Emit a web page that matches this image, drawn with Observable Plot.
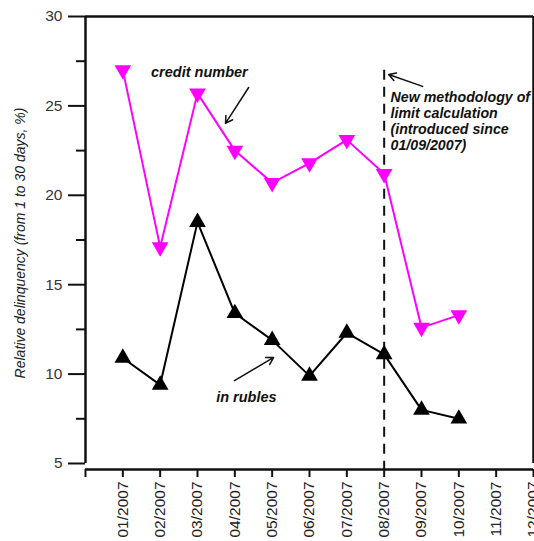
<!DOCTYPE html>
<html>
<head>
<meta charset="utf-8">
<script src="https://cdn.jsdelivr.net/npm/d3@7"></script>
<script src="https://cdn.jsdelivr.net/npm/@observablehq/plot@0.6"></script>
<style>
  html, body { margin: 0; padding: 0; background: #fff; }
</style>
</head>
<body>
<div id="chart"></div>
<script>
// ---- data ----
const months = [1, 2, 3, 4, 5, 6, 7, 8, 9, 10];
const creditNumber = [27.0, 17.1, 25.7, 22.5, 20.7, 21.8, 23.1, 21.2, 12.6, 13.3];
const inRubles = [10.9, 9.4, 18.5, 13.4, 11.9, 9.9, 12.3, 11.1, 8.0, 7.5];
const monthTicks = [0, 1, 2, 3, 4, 5, 6, 7, 8, 9, 10, 11, 12];
const monthLabels = ["", "01/2007", "02/2007", "03/2007", "04/2007", "05/2007", "06/2007",
  "07/2007", "08/2007", "09/2007", "10/2007", "11/2007", "12/2007"];
const yMajor = [5, 10, 15, 20, 25, 30];
const yMinor = [7.5, 12.5, 17.5, 22.5, 27.5];
const yLabel = "Relative delinquency (from 1 to 30 days, %)";
const methodologyMonth = 8;
const methodologyTop = 27.0;

// annotations (data coordinates)
const labels = [
  {x: 3.05, y: 26.87, text: "credit number"},
  {x: 4.31, y: 8.69, text: "in rubles"}
];
const noteText = [{x: 8.17, y: 25.85, text: "New methodology of\nlimit calculation\n(introduced since\n01/09/2007)"}];
const arrows = [
  {x1: 4.37, y1: 26.03, x2: 3.75, y2: 24.02},
  {x1: 3.99, y1: 9.64, x2: 5.04, y2: 10.93},
  {x1: 9.03, y1: 26.09, x2: 8.12, y2: 26.76}
];

const yBottom = 4.664;
const credit = months.map((m, i) => ({m, v: creditNumber[i]}));
const rubles = months.map((m, i) => ({m, v: inRubles[i]}));

const chart = Plot.plot({
  width: 534,
  height: 541,
  marginLeft: 85,
  marginRight: 1,
  marginTop: 16,
  marginBottom: 72,
  x: {domain: [0, 12], axis: null},
  y: {domain: [yBottom, 30], axis: null},
  style: {fontFamily: "'Liberation Sans', Arial, sans-serif", background: "#fff", overflow: "hidden"},
  marks: [
    // frame lines
    Plot.ruleX([0], {y1: 5, y2: 30, stroke: "#111", strokeWidth: 2.5}),
    Plot.ruleX([12], {y1: 5, y2: 30, stroke: "#111", strokeWidth: 2.5}),
    Plot.ruleY([30], {x1: 0, x2: 12, stroke: "#111", strokeWidth: 2.5}),
    Plot.ruleY([yBottom], {x1: 0, x2: 12, stroke: "#111", strokeWidth: 2.5}),
    // y axis
    Plot.axisY(yMajor, {tickSize: 17, tickPadding: 6, fontSize: 15.5, stroke: "#111", fill: "#333", strokeWidth: 2, label: null}),
    Plot.axisY(yMinor, {tickSize: 9, tickFormat: () => "", stroke: "#111", strokeWidth: 2, label: null}),
    // x axis
    Plot.axisX(monthTicks, {tickSize: 8, tickPadding: 4, tickRotate: -90, fontSize: 15.5, stroke: "#111", fill: "#222", strokeWidth: 2,
      tickFormat: d => monthLabels[d], label: null}),
    // y label
    Plot.text([yLabel], {frameAnchor: "left", rotate: -90, dx: -65, text: d => d, textAnchor: "middle", fontSize: 14, fontStyle: "italic", fill: "#222"}),
    // methodology dashed line
    Plot.ruleX([methodologyMonth], {y1: methodologyTop, y2: yBottom, stroke: "#111", strokeWidth: 2, strokeDasharray: "10,7"}),
    // series
    Plot.line(credit, {x: "m", y: "v", stroke: "#ff00ff", strokeWidth: 2}),
    Plot.dot(credit, {x: "m", y: "v", symbol: "triangle", r: 6.2, fill: "#ff00ff", rotate: 180}),
    Plot.line(rubles, {x: "m", y: "v", stroke: "#000", strokeWidth: 2}),
    Plot.dot(rubles, {x: "m", y: "v", symbol: "triangle", r: 6.2, fill: "#000"}),
    // annotations
    Plot.arrow(arrows, {x1: "x1", y1: "y1", x2: "x2", y2: "y2", stroke: "#111", strokeWidth: 1.5, headLength: 8}),
    Plot.text(labels, {x: "x", y: "y", text: "text", textAnchor: "middle", fontSize: 14.5, fontWeight: "bold", fontStyle: "italic", fill: "#111"}),
    Plot.text(noteText, {x: "x", y: "y", text: "text", textAnchor: "start", lineAnchor: "top", lineHeight: 1.12, fontSize: 14.2, fontWeight: "bold", fontStyle: "italic", fill: "#111"})
  ]
});
document.getElementById("chart").appendChild(chart);
</script>
</body>
</html>
